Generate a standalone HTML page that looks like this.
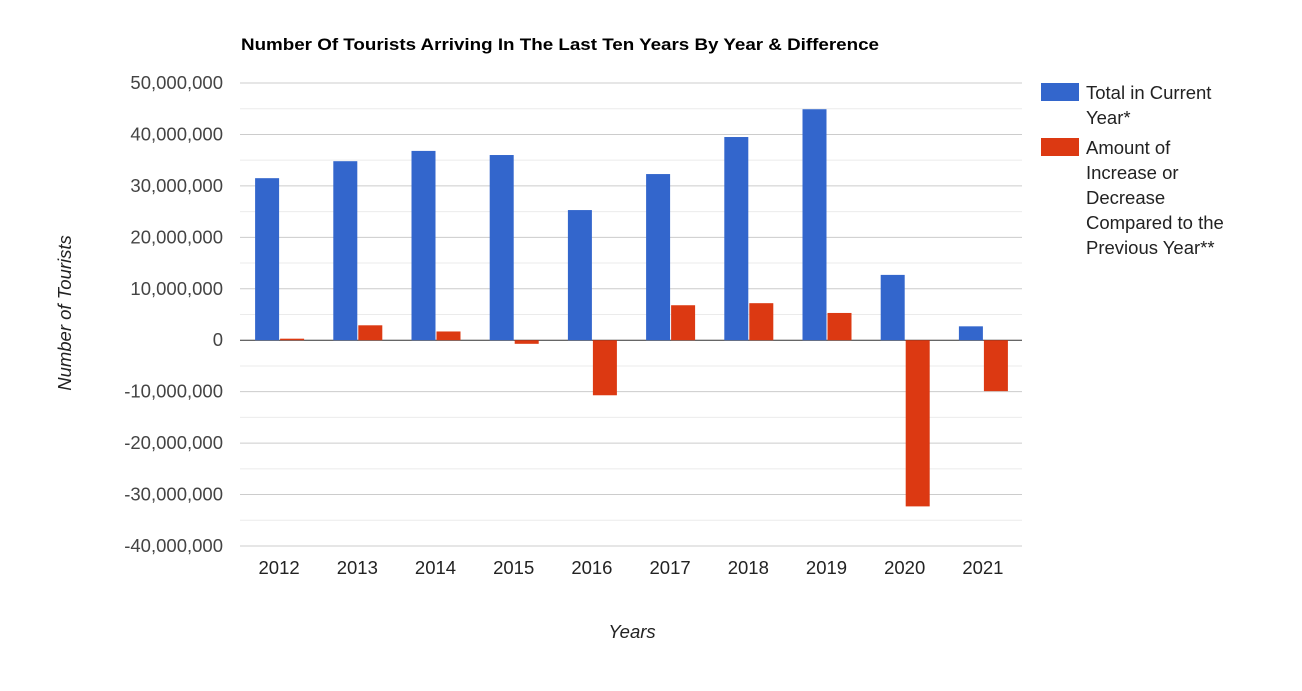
<!DOCTYPE html>
<html><head><meta charset="utf-8"><style>
body{margin:0;background:#fff;font-family:"Liberation Sans",Arial,sans-serif;}
svg text{font-family:"Liberation Sans",Arial,sans-serif;}
</style></head><body>
<svg id="chart" width="1302" height="686">
<text x="241" y="50" font-size="17" font-weight="bold" fill="#000" textLength="638" lengthAdjust="spacingAndGlyphs">Number Of Tourists Arriving In The Last Ten Years By Year &amp; Difference</text>
<g id="grid"></g>
<g id="yticks"></g>
<g id="bars"></g>
<g id="xticks"></g>
<text transform="translate(71,313) rotate(-90)" text-anchor="middle" font-size="18.5" font-style="italic" fill="#222">Number of Tourists</text>
<text x="632" y="638" text-anchor="middle" font-size="18.5" font-style="italic" fill="#222">Years</text>
<g>
<rect x="1041" y="83" width="38" height="18" fill="#3366cc"/>
<text x="1086" y="99" font-size="18.5" fill="#222">Total in Current</text>
<text x="1086" y="124" font-size="18.5" fill="#222">Year*</text>
</g>
<g>
<rect x="1041" y="138" width="38" height="18" fill="#dc3912"/>
<text x="1086" y="154" font-size="18.5" fill="#222">Amount of</text>
<text x="1086" y="179" font-size="18.5" fill="#222">Increase or</text>
<text x="1086" y="204" font-size="18.5" fill="#222">Decrease</text>
<text x="1086" y="229" font-size="18.5" fill="#222">Compared to the</text>
<text x="1086" y="254" font-size="18.5" fill="#222">Previous Year**</text>
</g>
</svg>
<script>
const categories=['2012','2013','2014','2015','2016','2017','2018','2019','2020','2021'];
const totalValues=[31500000,34800000,36800000,36000000,25300000,32300000,39500000,44900000,12700000,2700000];
const diffValues=[300000,2900000,1700000,-700000,-10700000,6800000,7200000,5300000,-32300000,-9900000];
const yTicks=[50000000,40000000,30000000,20000000,10000000,0,-10000000,-20000000,-30000000,-40000000];
const yTickLabels=['50,000,000','40,000,000','30,000,000','20,000,000','10,000,000','0','-10,000,000','-20,000,000','-30,000,000','-40,000,000'];
const NS='http://www.w3.org/2000/svg';
const x0=240,x1=1022,yTop=83,yBot=546,vMax=50000000,vMin=-40000000;
function y(v){return yTop+(vMax-v)/(vMax-vMin)*(yBot-yTop);}
const band=(x1-x0)/categories.length;
function xc(i){return x0+band*(i+0.5);}
function mk(t,a,p){const e=document.createElementNS(NS,t);for(const k in a)e.setAttribute(k,a[k]);p.appendChild(e);return e;}
const grid=document.getElementById('grid');
for(let v=vMax;v>=vMin;v-=5000000){
 const l=mk('line',{x1:x0,x2:x1,y1:y(v),y2:y(v),stroke:v===0?'#333':(v%10000000===0?'#ccc':'#ebebeb'),'stroke-width':1},grid);
 
 
}
const yt=document.getElementById('yticks');
yTicks.forEach((v,i)=>{const t=mk('text',{x:x0-17,y:y(v)+6,'text-anchor':'end','font-size':'18.5',fill:'#444'},yt);t.textContent=yTickLabels[i];
 
 });
const bars=document.getElementById('bars'),xt=document.getElementById('xticks');
const bw=24;
categories.forEach((c,i)=>{
 const cx=xc(i);
 const b1=mk('rect',{x:cx-bw,y:Math.min(y(totalValues[i]),y(0)),width:bw,height:Math.abs(y(totalValues[i])-y(0)),fill:'#3366cc'},bars);
 
 
 const b2=mk('rect',{x:cx+1,y:Math.min(y(diffValues[i]),y(0)),width:bw,height:Math.max(1,Math.abs(y(diffValues[i])-y(0))),fill:'#dc3912'},bars);
 
 
 const t=mk('text',{x:cx,y:574,'text-anchor':'middle','font-size':'18.5',fill:'#222'},xt);t.textContent=c;
 
 
});
</script>
</body></html>
